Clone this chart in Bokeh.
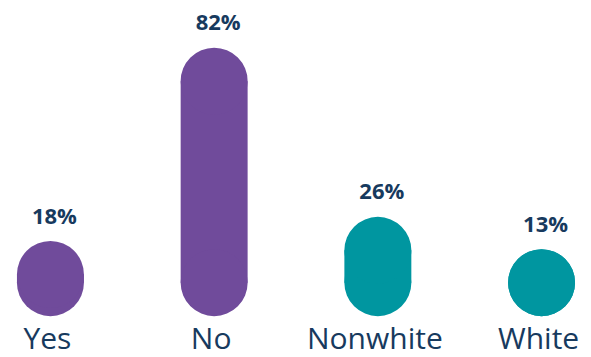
from bokeh.plotting import figure
from bokeh.models import ColumnDataSource, FactorRange, Range1d
from bokeh.core.properties import value
from bokeh.embed import file_html
from bokeh.resources import INLINE

# ---- data ----
categories = ["Yes", "No", "Nonwhite", "White"]
percents = [18, 82, 26, 13]
value_labels = ["18%", "82%", "26%", "13%"]
colors = ["#704B9B", "#704B9B", "#0096A0", "#0096A0"]

# pill geometry (style): lowest cap centre in value units
BASE = 15.3
tops = [max(v, BASE) for v in percents]

src = ColumnDataSource(dict(
    cat=categories,
    val=percents,
    top=tops,
    base=[BASE] * len(categories),
    label=value_labels,
    color=colors,
))

Y0, Y1 = -9.47, 108.71

p = figure(
    width=591, height=357,
    x_range=FactorRange(factors=categories, range_padding=-0.195,
                        range_padding_units="absolute"),
    y_range=Range1d(Y0, Y1),
    output_backend="svg", toolbar_location=None,
    x_axis_location=None, y_axis_location=None,
    min_border=0,
)
p.grid.visible = False
p.outline_line_color = None
p.background_fill_color = "white"
p.border_fill_color = "white"

BAR_W = 0.409
BAR_PX = 67
p.vbar(x="cat", bottom="base", top="top", width=BAR_W,
       fill_color="color", line_color=None, source=src)
p.scatter(x="cat", y="base", size=BAR_PX, marker="circle",
          fill_color="color", line_color=None, source=src)
p.scatter(x="cat", y="top", size=BAR_PX, marker="circle",
          fill_color="color", line_color=None, source=src)

# value labels
p.text(x="cat", y="top", text="label", source=src,
       x_offset=4, y_offset=-60,
       text_align="center", text_baseline="alphabetic",
       text_font=value("Open Sans"), text_font_style="bold",
       text_font_size="22px", text_color="#173A5E")

# category labels
p.text(x="cat", y=Y0, text="cat", source=src,
       x_offset=-3, y_offset=-20,
       text_align="center", text_baseline="alphabetic",
       text_font=value("Open Sans"), text_font_size="30px",
       text_color="#173A5E")

open("out.html", "w").write(file_html(p, INLINE))
